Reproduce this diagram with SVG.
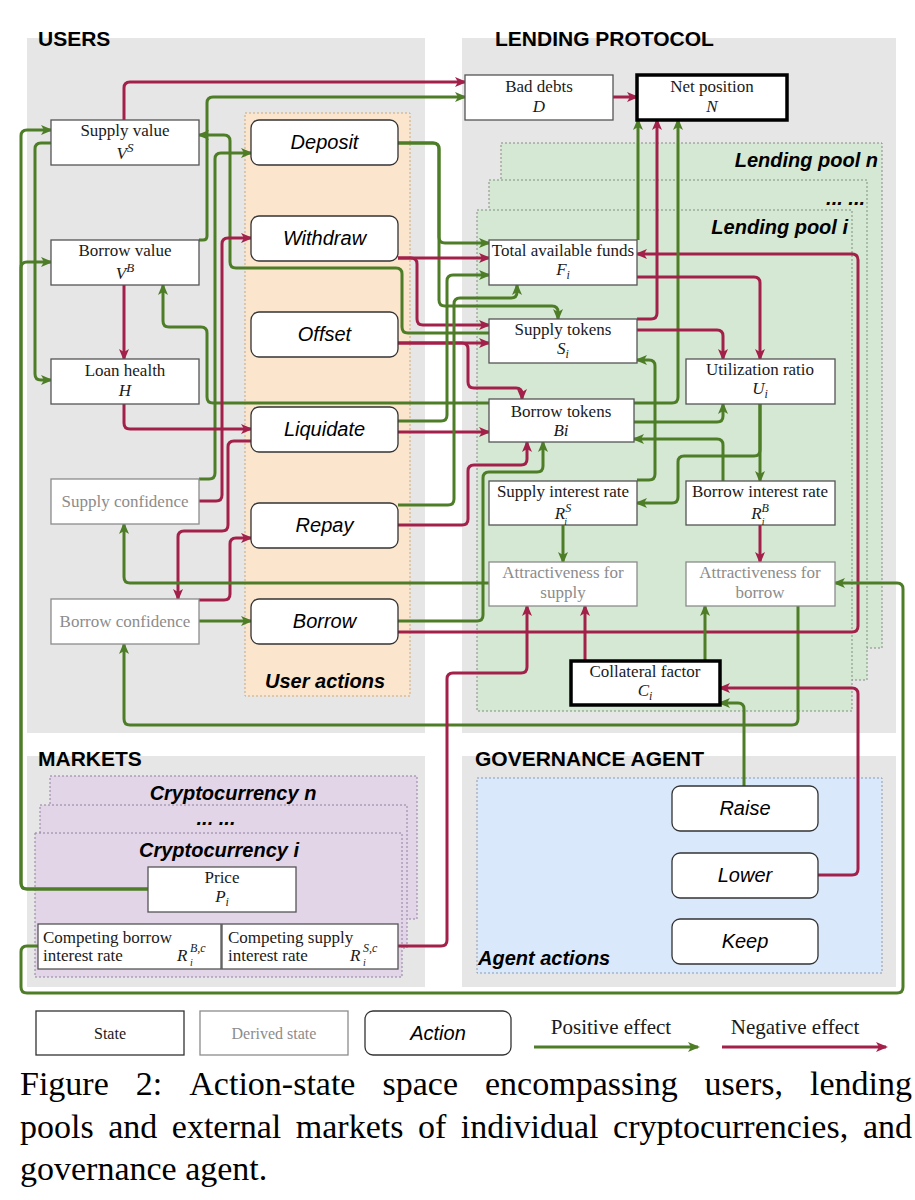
<svg xmlns="http://www.w3.org/2000/svg" width="915" height="1200" viewBox="0 0 915 1200">
<defs>
<marker id="ag" viewBox="0 0 12 10" refX="10" refY="5" markerWidth="12" markerHeight="10" markerUnits="userSpaceOnUse" orient="auto"><path d="M0,0 L12,5 L0,10 L3,5 z" fill="#4e7d27"/></marker>
<marker id="ar" viewBox="0 0 12 10" refX="10" refY="5" markerWidth="12" markerHeight="10" markerUnits="userSpaceOnUse" orient="auto"><path d="M0,0 L12,5 L0,10 L3,5 z" fill="#a3204a"/></marker>
<style>
.panel{fill:#e6e6e6}
.ttl{font-family:"Liberation Sans",Arial,sans-serif;font-weight:bold;font-size:21px;fill:#000}
.sub{font-family:"Liberation Sans",Arial,sans-serif;font-weight:bold;font-style:italic;font-size:20px;fill:#000}
.pool{fill:#d5e8d4;stroke:#7f8f7f;stroke-width:1;stroke-dasharray:2,2}
.crypto{fill:#e1d5e7;stroke:#9080a0;stroke-width:1;stroke-dasharray:2,2}
.ua{fill:#fce5cd;stroke:#d4a76a;stroke-width:1;stroke-dasharray:2,2}
.aa{fill:#dae8fc;stroke:#8a9ab0;stroke-width:1;stroke-dasharray:2,2}
.st{fill:#fff;stroke:#555;stroke-width:1.3}
.dv{fill:#fff;stroke:#8c8c8c;stroke-width:1.3}
.tk{fill:#fff;stroke:#000;stroke-width:3.5}
.ac{fill:#fff;stroke:#333;stroke-width:1.3}
.t{font-family:"Liberation Serif","Times New Roman",serif;font-size:17px;text-anchor:middle;fill:#1a1a1a}
.tl{font-family:"Liberation Serif","Times New Roman",serif;font-size:17px;fill:#1a1a1a}
.lg{font-family:"Liberation Serif","Times New Roman",serif;font-size:16px;text-anchor:middle;fill:#1a1a1a}
.le{font-family:"Liberation Serif","Times New Roman",serif;font-size:21px;text-anchor:middle;fill:#1a1a1a}
.dt{fill:#8c8c8c}
.m{font-style:italic}
.sm{font-style:italic;font-size:12px}
.sp{font-style:italic;font-size:13px}
.sb{font-style:italic;font-size:10px}
.at{font-family:"Liberation Sans",Arial,sans-serif;font-style:italic;font-size:20px;text-anchor:middle;fill:#000}
.g{fill:none;stroke:#4e7d27;stroke-width:3;marker-end:url(#ag)}
.r{fill:none;stroke:#a3204a;stroke-width:3;marker-end:url(#ar)}
.cap{font-family:"Liberation Serif","Times New Roman",serif;font-size:34px;fill:#000}
</style>
</defs>
<rect width="915" height="1200" fill="#fff"/>

<g id="panels">
<rect class="panel" x="27" y="38" width="398" height="695"/>
<rect class="panel" x="462" y="38" width="434" height="695"/>
<rect class="panel" x="27" y="756" width="398" height="231"/>
<rect class="panel" x="462" y="756" width="434" height="231"/>
<text class="ttl" x="38" y="46">USERS</text>
<text class="ttl" x="495" y="46">LENDING PROTOCOL</text>
<text class="ttl" x="38" y="766">MARKETS</text>
<text class="ttl" x="475" y="766">GOVERNANCE AGENT</text>
</g>

<g id="user-actions-box">
<rect class="ua" x="245" y="113" width="165" height="583"/>
<text class="sub" x="265" y="688">User actions</text>
</g>

<g id="lending-pools">
<rect class="pool" x="501" y="143" width="381" height="505"/>
<text class="sub" x="878" y="167" text-anchor="end">Lending pool n</text>
<rect class="pool" x="489" y="180" width="378" height="500"/>
<text class="sub" x="865" y="205" text-anchor="end">... ...</text>
<rect class="pool" x="477" y="210" width="375" height="501"/>
<text class="sub" x="848" y="234" text-anchor="end">Lending pool i</text>
</g>

<g id="cryptocurrencies">
<rect class="crypto" x="50" y="776" width="367" height="143"/>
<text class="sub" x="233" y="800" text-anchor="middle">Cryptocurrency n</text>
<rect class="crypto" x="40" y="805" width="367" height="143"/>
<text class="sub" x="216" y="825" text-anchor="middle">... ...</text>
<rect class="crypto" x="35" y="833" width="367" height="144"/>
<text class="sub" x="219" y="857" text-anchor="middle">Cryptocurrency i</text>
</g>

<g id="agent-actions-box">
<rect class="aa" x="477" y="778" width="405" height="195"/>
<text class="sub" x="478" y="965">Agent actions</text>
</g>

<g id="connectors">
<path class="r" d="M124,120 V88 Q124,82 130,82 H465"/>
<path class="g" d="M199,240 H203 Q207,240 207,236 V103 Q207,97 213,97 H465"/>
<path class="r" d="M613,97 H637"/>
<path class="g" d="M148,889 H27 Q21,889 21,883 V136 Q21,130 27,130 H51"/>
<path class="g" d="M148,889 H27 Q21,889 21,883 V268 Q21,262 27,262 H51"/>
<path class="g" d="M51,143 H41 Q35,143 35,149 V374 Q35,380 41,380 H51"/>
<path class="r" d="M124,285 V359"/>
<path class="g" d="M489,333 H408 Q402,333 402,327 V274 Q402,268 396,268 H236 Q230,268 230,262 V141 Q230,135 224,135 H199"/>
<path class="g" d="M489,403 H213 Q207,403 207,397 V333 Q207,327 201,327 H169 Q163,327 163,321 V285"/>
<path class="g" d="M199,479 H209 Q215,479 215,473 V159 Q215,153 221,153 H251"/>
<path class="r" d="M199,501 H216 Q222,501 222,495 V244 Q222,238 228,238 H251"/>
<path class="r" d="M124,404 V423 Q124,429 130,429 H251"/>
<path class="r" d="M251,441 H234 Q228,441 228,447 V525 Q228,531 222,531 H184 Q178,531 178,537 V599"/>
<path class="r" d="M199,600 H224 Q230,600 230,594 V544 Q230,538 236,538 H251"/>
<path class="g" d="M199,621 H251"/>
<path class="g" d="M489,583 H130 Q124,583 124,577 V524"/>
<path class="g" d="M798,606 V719 Q798,725 792,725 H130 Q124,725 124,719 V644"/>
<path class="g" d="M398,143 H433 Q439,143 439,149 V237 Q439,243 445,243 H489"/>
<path class="g" d="M398,143 H433 Q439,143 439,149 V300 Q439,306 445,306 H552 Q558,306 558,312 V319"/>
<path class="r" d="M398,258 H489"/>
<path class="r" d="M398,258 H411 Q417,258 417,264 V319 Q417,325 423,325 H489"/>
<path class="r" d="M398,343 H489"/>
<path class="r" d="M398,343 H462 Q468,343 468,349 V382 Q468,388 474,388 H516 Q522,388 522,394 V399"/>
<path class="g" d="M398,421 H441 Q447,421 447,415 V281 Q447,275 453,275 H489"/>
<path class="r" d="M398,432 H489"/>
<path class="g" d="M398,505 H448 Q454,505 454,499 V304 Q454,298 460,298 H511 Q517,298 517,292 V285"/>
<path class="r" d="M398,525 H462 Q468,525 468,519 V471 Q468,465 474,465 H521 Q527,465 527,459 V442"/>
<path class="g" d="M398,621 H477 Q483,621 483,615 V478 Q483,472 489,472 H537 Q543,472 543,466 V442"/>
<path class="r" d="M398,632 H852 Q858,632 858,626 V260 Q858,254 852,254 H637"/>
<path class="g" d="M638,240 V120"/>
<path class="r" d="M637,319 H651 Q657,319 657,313 V120"/>
<path class="g" d="M634,403 H672 Q678,403 678,397 V120"/>
<path class="r" d="M637,277 H754 Q760,277 760,283 V359"/>
<path class="r" d="M637,330 H717 Q723,330 723,336 V359"/>
<path class="g" d="M634,422 H717 Q723,422 723,416 V404"/>
<path class="g" d="M760,404 V481"/>
<path class="g" d="M760,404 V450 Q760,456 754,456 H684 Q678,456 678,462 V497 Q678,503 672,503 H637"/>
<path class="g" d="M723,481 V445 Q723,439 717,439 H634"/>
<path class="g" d="M637,480 H649 Q655,480 655,474 V366 Q655,360 649,360 H637"/>
<path class="g" d="M563,525 V562"/>
<path class="r" d="M760,525 V562"/>
<path class="r" d="M585,661 V606"/>
<path class="g" d="M705,661 V606"/>
<path class="r" d="M398,946 H441 Q447,946 447,940 V679 Q447,673 453,673 H521 Q527,673 527,667 V606"/>
<path class="g" d="M38,946 H27 Q21,946 21,952 V987 Q21,993 27,993 H897 Q903,993 903,987 V589 Q903,583 897,583 H835"/>
<path class="r" d="M818,875 H852 Q858,875 858,869 V694 Q858,688 852,688 H720"/>
<path class="g" d="M744,786 V709 Q744,703 738,703 H720"/>
</g>

<g id="supply-value"><rect class="st" x="51" y="120" width="148" height="45"/><text class="t" x="125" y="136">Supply value</text><text class="t" x="125" y="159"><tspan class="m">V</tspan><tspan class="sp" dy="-7">S</tspan></text></g>
<g id="borrow-value"><rect class="st" x="51" y="240" width="148" height="45"/><text class="t" x="125" y="256">Borrow value</text><text class="t" x="125" y="279"><tspan class="m">V</tspan><tspan class="sp" dy="-7">B</tspan></text></g>
<g id="loan-health"><rect class="st" x="51" y="359" width="148" height="45"/><text class="t" x="125" y="376">Loan health</text><text class="t m" x="125" y="396">H</text></g>
<g id="supply-confidence"><rect class="dv" x="51" y="479" width="148" height="45"/><text class="t dt" x="125" y="507">Supply confidence</text></g>
<g id="borrow-confidence"><rect class="dv" x="51" y="599" width="148" height="45"/><text class="t dt" x="125" y="627">Borrow confidence</text></g>

<g id="deposit"><rect class="ac" x="251" y="120" width="147" height="45" rx="8"/><text class="at" x="324.5" y="149">Deposit</text></g>
<g id="withdraw"><rect class="ac" x="251" y="216" width="147" height="45" rx="8"/><text class="at" x="324.5" y="245">Withdraw</text></g>
<g id="offset"><rect class="ac" x="251" y="312" width="147" height="45" rx="8"/><text class="at" x="324.5" y="341">Offset</text></g>
<g id="liquidate"><rect class="ac" x="251" y="407" width="147" height="45" rx="8"/><text class="at" x="324.5" y="436">Liquidate</text></g>
<g id="repay"><rect class="ac" x="251" y="503" width="147" height="45" rx="8"/><text class="at" x="324.5" y="532">Repay</text></g>
<g id="borrow"><rect class="ac" x="251" y="599" width="147" height="45" rx="8"/><text class="at" x="324.5" y="628">Borrow</text></g>

<g id="bad-debts"><rect class="st" x="465" y="75" width="148" height="45"/><text class="t" x="539" y="92">Bad debts</text><text class="t m" x="539" y="112">D</text></g>
<g id="net-position"><rect class="tk" x="637" y="75" width="150" height="45"/><text class="t" x="712" y="92">Net position</text><text class="t m" x="712" y="112">N</text></g>
<g id="total-available-funds"><rect class="st" x="489" y="240" width="148" height="45"/><text class="t" x="563" y="256">Total available funds</text><text class="t" x="563" y="275"><tspan class="m">F</tspan><tspan class="sm" dy="4">i</tspan></text></g>
<g id="supply-tokens"><rect class="st" x="489" y="319" width="148" height="44"/><text class="t" x="563" y="335">Supply tokens</text><text class="t" x="563" y="354"><tspan class="m">S</tspan><tspan class="sm" dy="4">i</tspan></text></g>
<g id="utilization-ratio"><rect class="st" x="686" y="359" width="149" height="45"/><text class="t" x="760" y="375">Utilization ratio</text><text class="t" x="760" y="394"><tspan class="m">U</tspan><tspan class="sm" dy="4">i</tspan></text></g>
<g id="borrow-tokens"><rect class="st" x="489" y="399" width="145" height="43"/><text class="t" x="561" y="417">Borrow tokens</text><text class="t m" x="561" y="436">Bi</text></g>
<g id="supply-interest-rate"><rect class="st" x="489" y="481" width="148" height="44"/><text class="t" x="563" y="497">Supply interest rate</text><text class="t" x="563" y="519"><tspan class="m">R</tspan><tspan class="sm" dy="-7">S</tspan><tspan class="sb" dx="-7" dy="13">i</tspan></text></g>
<g id="borrow-interest-rate"><rect class="st" x="686" y="481" width="149" height="44"/><text class="t" x="760" y="497">Borrow interest rate</text><text class="t" x="760" y="519"><tspan class="m">R</tspan><tspan class="sm" dy="-7">B</tspan><tspan class="sb" dx="-7" dy="13">i</tspan></text></g>
<g id="attractiveness-supply"><rect class="dv" x="489" y="562" width="148" height="44"/><text class="t dt" x="563" y="578">Attractiveness for</text><text class="t dt" x="563" y="598">supply</text></g>
<g id="attractiveness-borrow"><rect class="dv" x="686" y="562" width="149" height="44"/><text class="t dt" x="760" y="578">Attractiveness for</text><text class="t dt" x="760" y="598">borrow</text></g>
<g id="collateral-factor"><rect class="tk" x="571" y="661" width="149" height="44"/><text class="t" x="645" y="677">Collateral factor</text><text class="t" x="645" y="696"><tspan class="m">C</tspan><tspan class="sm" dy="4">i</tspan></text></g>

<g id="price"><rect class="st" x="148" y="867" width="148" height="45"/><text class="t" x="222" y="883">Price</text><text class="t" x="222" y="902"><tspan class="m">P</tspan><tspan class="sm" dy="4">i</tspan></text></g>
<g id="competing-borrow-rate"><rect class="st" x="38" y="924" width="183" height="45"/><text class="tl" x="43" y="943">Competing borrow</text><text class="tl" x="43" y="961">interest rate</text><text class="tl" x="177" y="961"><tspan class="m">R</tspan><tspan class="sm" x="190" y="952">B,c</tspan><tspan class="sb" x="190" y="966">i</tspan></text></g>
<g id="competing-supply-rate"><rect class="st" x="222" y="924" width="176" height="45"/><text class="tl" x="228" y="943">Competing supply</text><text class="tl" x="228" y="961">interest rate</text><text class="tl" x="350" y="961"><tspan class="m">R</tspan><tspan class="sm" x="363" y="952">S,c</tspan><tspan class="sb" x="363" y="966">i</tspan></text></g>

<g id="raise"><rect class="ac" x="672" y="786" width="146" height="45" rx="8"/><text class="at" x="745" y="815">Raise</text></g>
<g id="lower"><rect class="ac" x="672" y="853" width="146" height="45" rx="8"/><text class="at" x="745" y="882">Lower</text></g>
<g id="keep"><rect class="ac" x="672" y="919" width="146" height="45" rx="8"/><text class="at" x="745" y="948">Keep</text></g>

<g id="legend">
<rect class="st" x="36" y="1011" width="148" height="44" style="stroke:#333"/>
<text class="lg" x="110" y="1039">State</text>
<rect class="dv" x="200" y="1011" width="148" height="44"/>
<text class="lg dt" x="274" y="1039">Derived state</text>
<rect class="ac" x="365" y="1011" width="146" height="44" rx="8"/>
<text class="at" x="438" y="1040">Action</text>
<text class="le" x="611" y="1034">Positive effect</text>
<path class="g" d="M534,1047 H698"/>
<text class="le" x="795" y="1034">Negative effect</text>
<path class="r" d="M722,1047 H886"/>
</g>

<g id="caption">
<text class="cap" y="1095"><tspan x="20">Figure</tspan><tspan x="135.8">2:</tspan><tspan x="189.3">Action-state</tspan><tspan x="382.5">space</tspan><tspan x="485">encompassing</tspan><tspan x="704.6">users,</tspan></text>
<text class="cap" x="912" y="1095" text-anchor="end">lending</text>
<text class="cap" y="1138"><tspan x="20">pools</tspan><tspan x="108.2">and</tspan><tspan x="171.8">external</tspan><tspan x="295.8">markets</tspan><tspan x="417.9">of</tspan><tspan x="460.7">individual</tspan><tspan x="613.1">cryptocurrencies,</tspan></text>
<text class="cap" x="912" y="1138" text-anchor="end">and</text>
<text class="cap" x="20" y="1180">governance agent.</text>
</g>
</svg>
